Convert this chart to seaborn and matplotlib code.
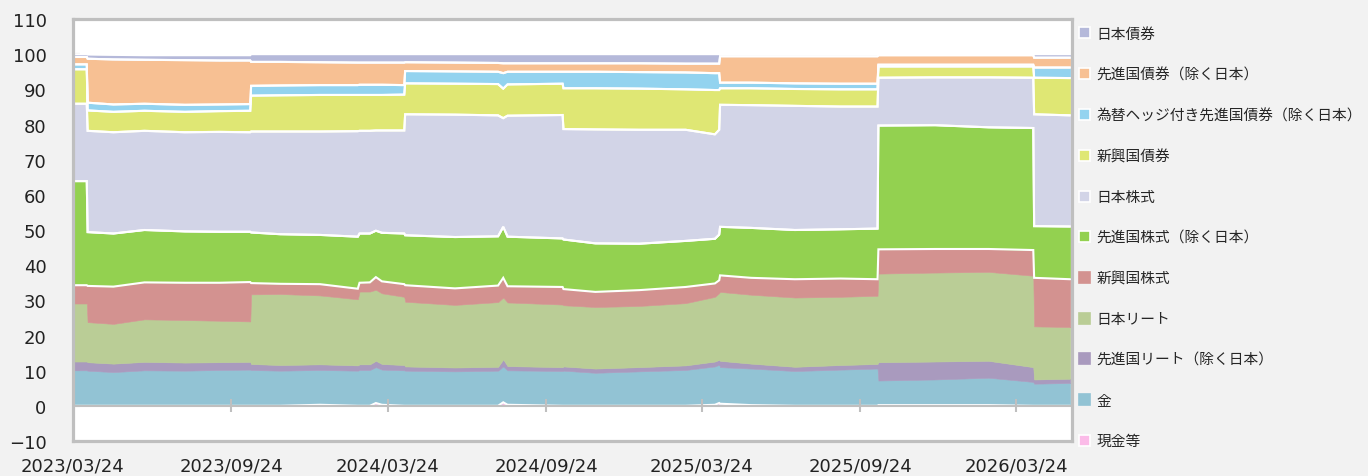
import matplotlib
matplotlib.use("Agg")
import matplotlib.pyplot as plt
import matplotlib.dates as mdates
from matplotlib.patches import Patch
from matplotlib.font_manager import FontProperties
import numpy as np
import pandas as pd
import seaborn as sns

# Data (shares in %)
dates = pd.to_datetime([
    "2023-03-24", "2023-04-09", "2023-04-10", "2023-05-10", "2023-06-15",
    "2023-08-01", "2023-09-10", "2023-10-16", "2023-10-17", "2023-11-20",
    "2024-01-05", "2024-02-18", "2024-02-20", "2024-03-03", "2024-03-10",
    "2024-03-17", "2024-04-12", "2024-04-13", "2024-06-10", "2024-07-30",
    "2024-08-05", "2024-08-10", "2024-10-13", "2024-10-14", "2024-11-20",
    "2025-01-10", "2025-03-05", "2025-04-08", "2025-04-13", "2025-04-14",
    "2025-05-20", "2025-07-10", "2025-09-01", "2025-10-14", "2025-10-15",
    "2025-12-20", "2026-02-20", "2026-04-13", "2026-04-14", "2026-05-26",
])

cash = [0, 0, 0, 0, 0, 0, 0, 0, 0, 0,
        0.3, 0, 0, 0, 0.8, 0.3, 0, 0, 0, 0,
        1.0, 0.3, 0, 0, 0, 0, 0, 0.3, 0.8, 0.6,
        0.2, 0, 0, 0, 0.2, 0.2, 0.2, 0, 0, 0]
gold = [10.1, 10.1, 10.0, 9.6, 10.1, 10.0, 10.2, 10.3, 10.2, 10.0,
        9.9, 10.0, 10.2, 10.2, 10.2, 10.0, 10.1, 10.0, 9.8, 10.0,
        10.2, 9.8, 9.9, 10.0, 9.4, 9.8, 10.2, 10.9, 10.9, 10.4,
        10.4, 9.9, 10.3, 10.6, 7.0, 7.3, 7.8, 6.8, 6.3, 6.5]
dm_reit = [2.5, 2.5, 2.4, 2.4, 2.4, 2.3, 2.2, 2.2, 1.7, 1.6,
           1.6, 1.5, 1.6, 1.6, 1.8, 1.6, 1.5, 1.2, 1.1, 1.1,
           2.0, 1.2, 1.1, 1.2, 1.2, 1.2, 1.3, 1.4, 1.4, 1.8,
           1.4, 1.2, 1.3, 1.3, 5.2, 5.1, 4.8, 4.2, 1.2, 1.2]
jp_reit = [16.5, 16.5, 11.4, 11.3, 12.1, 12.1, 11.8, 11.5, 19.8, 20.2,
           19.6, 18.8, 20.7, 20.7, 20.2, 20.1, 19.4, 18.4, 17.8, 18.4,
           17.6, 18.1, 17.8, 17.4, 17.5, 17.4, 17.7, 18.4, 19.0, 19.6,
           19.6, 19.7, 19.4, 19.4, 25.2, 25.3, 25.3, 26.0, 15.1, 14.7]
em_eq = [5.2, 5.2, 10.3, 10.6, 10.5, 10.6, 10.8, 11.2, 3.2, 2.9,
         3.2, 3.0, 2.5, 2.6, 3.6, 3.4, 3.6, 4.7, 4.7, 4.7,
         5.6, 4.6, 5.0, 4.6, 4.3, 4.5, 4.6, 3.8, 3.6, 4.7,
         4.8, 5.2, 5.2, 4.7, 6.9, 6.7, 6.5, 7.3, 13.8, 13.6]
dm_eq = [29.6, 29.6, 15.3, 15.1, 14.9, 14.6, 14.5, 14.3, 14.4, 14.1,
         14.0, 14.8, 14.0, 13.9, 13.2, 13.8, 14.4, 14.2, 14.6, 14.0,
         14.5, 14.1, 13.8, 14.1, 13.8, 13.2, 13.1, 12.7, 13.0, 13.8,
         14.2, 14.0, 14.0, 14.4, 35.2, 35.2, 34.6, 34.7, 14.7, 15.0]
jp_eq = [22.0, 22.0, 28.8, 28.8, 28.2, 28.2, 28.4, 28.3, 28.7, 29.2,
         29.4, 30.0, 29.2, 29.2, 28.5, 29.1, 29.3, 34.4, 34.8, 34.4,
         30.9, 34.4, 35.1, 31.4, 32.4, 32.4, 31.6, 29.7, 29.8, 34.7,
         34.9, 35.3, 34.9, 34.7, 13.6, 13.6, 14.2, 14.3, 31.8, 31.6]
em_bond = [9.8, 9.8, 5.8, 5.8, 5.7, 5.8, 5.9, 6.1, 10.2, 10.3,
           10.4, 10.3, 10.2, 10.2, 10.1, 10.1, 10.2, 8.8, 8.8, 8.9,
           8.4, 8.9, 8.9, 11.6, 11.7, 11.7, 11.5, 12.6, 11.3, 4.7,
           4.8, 4.8, 4.9, 4.9, 3.2, 3.1, 3.1, 3.2, 10.4, 10.6]
hedged_bond = [1.4, 1.4, 2.2, 2.1, 2.0, 2.0, 1.9, 1.9, 2.8, 2.8,
               2.8, 2.8, 2.9, 2.9, 2.9, 2.9, 2.7, 3.5, 3.5, 3.5,
               4.4, 3.6, 3.4, 4.7, 4.7, 4.7, 4.8, 4.8, 4.8, 1.6,
               1.6, 1.6, 1.6, 1.6, 0.5, 0.5, 0.5, 0.5, 2.9, 3.0]
dm_bond = [2.1, 2.1, 12.5, 12.8, 12.5, 12.7, 12.5, 12.4, 6.8, 6.7,
           6.5, 6.4, 6.3, 6.3, 6.3, 6.3, 6.4, 2.5, 2.5, 2.5,
           2.8, 2.4, 2.4, 2.4, 2.4, 2.5, 2.5, 2.7, 2.7, 7.5,
           7.5, 7.7, 7.8, 7.8, 2.7, 2.7, 2.7, 2.7, 2.8, 2.8]
jp_bond = [0.8, 0.8, 1.2, 1.3, 1.3, 1.4, 1.5, 1.5, 2.2, 2.2,
           2.3, 2.4, 2.4, 2.4, 2.4, 2.4, 2.4, 2.3, 2.4, 2.5,
           2.6, 2.6, 2.6, 2.6, 2.6, 2.6, 2.7, 2.7, 2.7, 0.6,
           0.6, 0.6, 0.6, 0.6, 0.3, 0.3, 0.3, 0.3, 1.0, 1.0]

# bottom -> top (name, values, colour, white outline)
series = [
    ("現金等", cash, "#fbbbe8", True),
    ("金", gold, "#92c3d4", False),
    ("先進国リート（除く日本）", dm_reit, "#a99abe", False),
    ("日本リート", jp_reit, "#bacd96", False),
    ("新興国株式", em_eq, "#d39290", False),
    ("先進国株式（除く日本）", dm_eq, "#93d150", True),
    ("日本株式", jp_eq, "#d2d4e7", True),
    ("新興国債券", em_bond, "#dfe774", True),
    ("為替ヘッジ付き先進国債券（除く日本）", hedged_bond, "#93d3ef", True),
    ("先進国債券（除く日本）", dm_bond, "#f7c093", True),
    ("日本債券", jp_bond, "#b5b9da", True),
]

tick_dates = pd.to_datetime(["2023-03-24", "2023-09-24", "2024-03-24", "2024-09-24",
                             "2025-03-24", "2025-09-24", "2026-03-24"])

sns.set_theme(style="white")
plt.rcParams["font.family"] = ["DejaVu Sans"]

fig = plt.figure(figsize=(13.68, 4.77), dpi=100, facecolor="#f2f2f2")
ax = fig.add_axes([73 / 1368, 35 / 477, 999 / 1368, 422 / 477])
ax.set_facecolor("white")

vals = np.array([s[1] for s in series], dtype=float)
tops = np.cumsum(vals, axis=0)
bottoms = np.vstack([np.zeros(len(dates)), tops[:-1]])

for i, (name, _, col, edged) in enumerate(series):
    ax.fill_between(dates, bottoms[i], tops[i], facecolor=col, edgecolor=col, linewidth=0.4)

# white outlines of the outlined series
for i, (name, _, col, edged) in enumerate(series):
    if edged:
        ax.plot(dates, bottoms[i], color="white", lw=1.5, solid_joinstyle="miter")
        ax.plot(dates, tops[i], color="white", lw=1.5, solid_joinstyle="miter")

ax.axhline(0, color="#bfbfbf", lw=1.5, zorder=3)
ax.vlines(tick_dates[1:], -1.7, 2.0, color="#bfbfbf", lw=1.5, zorder=3)

ax.set_ylim(-10, 110)
ax.set_yticks(range(-10, 111, 10))
ax.set_xlim(pd.Timestamp("2023-03-24"), pd.Timestamp("2026-05-28"))
ax.set_xticks(tick_dates)
ax.xaxis.set_major_formatter(mdates.DateFormatter("%Y/%m/%d"))
ax.tick_params(axis="y", direction="in", length=5, width=1.5, color="#bfbfbf",
               pad=19, labelsize=13, labelcolor="#222222", left=True)
ax.tick_params(axis="x", length=0, pad=11, labelsize=13, labelcolor="#222222")
for sp in ax.spines.values():
    sp.set_color("#bfbfbf")
    sp.set_linewidth(2.3)
    sp.set_zorder(4)
ax.grid(False)

handles = []
labels = []
for name, _, col, edged in reversed(series):
    handles.append(Patch(facecolor=col, edgecolor="white" if edged else col, linewidth=1.2))
    labels.append(name)
fig.legend(handles, labels, loc="upper left", bbox_to_anchor=(1079 / 1368, 1 - 28 / 477),
           frameon=False, prop=FontProperties(family=["Noto Sans CJK JP"], size=10.6),
           handlelength=0.78, handleheight=0.78, handletextpad=0.42,
           labelspacing=1.81, borderaxespad=0, borderpad=0)

fig.savefig("out.png", dpi=100, facecolor=fig.get_facecolor())
